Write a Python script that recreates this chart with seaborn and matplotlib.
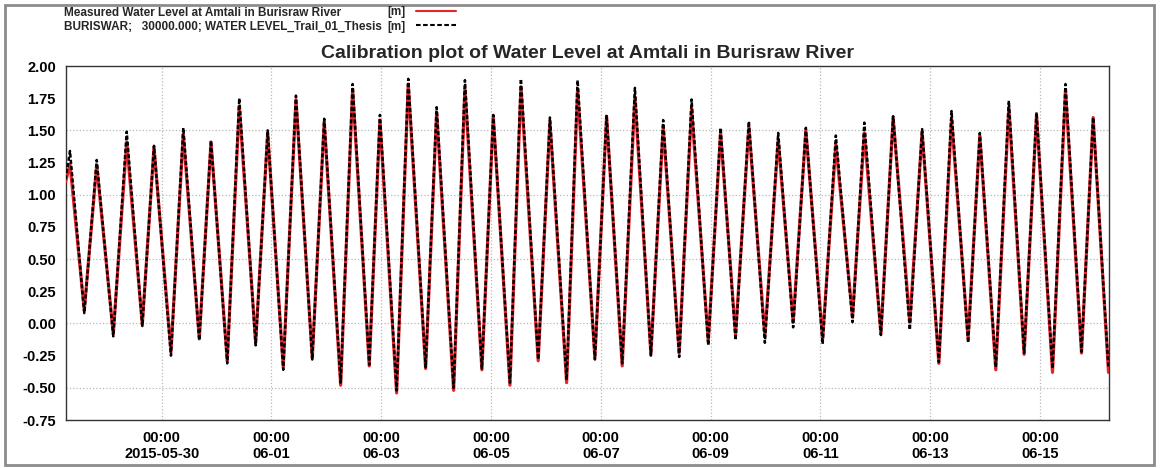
import numpy as np
import pandas as pd
import matplotlib
matplotlib.use("Agg")
import matplotlib.pyplot as plt
import matplotlib.dates as mdates
from matplotlib.ticker import MultipleLocator, FormatStrFormatter
from matplotlib.lines import Line2D
from matplotlib.patches import Rectangle
import seaborn as sns

# ---------------- data (successive high / low waters) -------------
times = [
    "2015-05-28 06:00", "2015-05-28 07:55", "2015-05-28 14:10", "2015-05-28 19:36",
    "2015-05-29 02:51", "2015-05-29 08:43", "2015-05-29 15:32", "2015-05-29 20:39",
    "2015-05-30 04:04", "2015-05-30 09:27", "2015-05-30 16:27", "2015-05-30 21:34",
    "2015-05-31 04:41", "2015-05-31 09:56", "2015-05-31 17:06", "2015-05-31 22:21",
    "2015-06-01 05:10", "2015-06-01 10:43", "2015-06-01 17:51", "2015-06-01 23:05",
    "2015-06-02 06:16", "2015-06-02 11:30", "2015-06-02 18:46", "2015-06-02 23:26",
    "2015-06-03 06:44", "2015-06-03 11:49", "2015-06-03 19:25", "2015-06-04 00:14",
    "2015-06-04 07:40", "2015-06-04 12:36", "2015-06-04 20:01", "2015-06-05 01:00",
    "2015-06-05 08:17", "2015-06-05 13:05", "2015-06-05 20:38", "2015-06-06 01:46",
    "2015-06-06 09:04", "2015-06-06 13:52", "2015-06-06 21:26", "2015-06-07 02:32",
    "2015-06-07 09:22", "2015-06-07 14:55", "2015-06-07 21:55", "2015-06-08 03:17",
    "2015-06-08 10:17", "2015-06-08 15:42", "2015-06-08 23:00", "2015-06-09 04:23",
    "2015-06-09 10:56", "2015-06-09 16:45", "2015-06-09 23:45", "2015-06-10 05:35",
    "2015-06-10 12:07", "2015-06-10 17:40", "2015-06-11 01:00", "2015-06-11 06:47",
    "2015-06-11 14:05", "2015-06-11 19:15", "2015-06-12 02:29", "2015-06-12 07:50",
    "2015-06-12 15:08", "2015-06-12 20:30", "2015-06-13 03:49", "2015-06-13 09:22",
    "2015-06-13 16:37", "2015-06-13 21:44", "2015-06-14 04:43", "2015-06-14 10:25",
    "2015-06-14 17:06", "2015-06-14 22:32", "2015-06-15 05:31", "2015-06-15 11:12",
    "2015-06-15 18:12", "2015-06-15 23:17", "2015-06-16 06:00",
]
measured = [
    1.10, 1.24, 0.10, 1.23, -0.08, 1.41, -0.01, 1.37,
    -0.22, 1.47, -0.12, 1.41, -0.29, 1.69, -0.15, 1.48,
    -0.34, 1.74, -0.27, 1.57, -0.48, 1.82, -0.33, 1.58,
    -0.54, 1.86, -0.35, 1.64, -0.52, 1.83, -0.36, 1.61,
    -0.48, 1.84, -0.29, 1.57, -0.46, 1.82, -0.27, 1.61,
    -0.33, 1.76, -0.24, 1.53, -0.23, 1.67, -0.14, 1.48,
    -0.09, 1.53, -0.10, 1.43, 0.01, 1.50, -0.12, 1.39,
    0.05, 1.48, -0.08, 1.60, 0.01, 1.49, -0.31, 1.59,
    -0.12, 1.46, -0.36, 1.68, -0.24, 1.62, -0.38, 1.81,
    -0.23, 1.60, -0.38,
]
simulated = [
    1.12, 1.34, 0.08, 1.27, -0.10, 1.49, -0.02, 1.38,
    -0.25, 1.52, -0.13, 1.42, -0.31, 1.75, -0.17, 1.50,
    -0.36, 1.77, -0.28, 1.59, -0.46, 1.86, -0.32, 1.62,
    -0.52, 1.90, -0.34, 1.68, -0.50, 1.89, -0.35, 1.62,
    -0.46, 1.90, -0.28, 1.60, -0.44, 1.89, -0.28, 1.62,
    -0.31, 1.83, -0.25, 1.58, -0.26, 1.74, -0.17, 1.52,
    -0.13, 1.57, -0.15, 1.48, -0.03, 1.52, -0.16, 1.46,
    0.01, 1.56, -0.09, 1.61, -0.05, 1.51, -0.30, 1.65,
    -0.15, 1.48, -0.34, 1.73, -0.23, 1.64, -0.35, 1.86,
    -0.22, 1.60, -0.35,
]
tick_dates = ["2015-05-30", "2015-06-01", "2015-06-03", "2015-06-05", "2015-06-07",
              "2015-06-09", "2015-06-11", "2015-06-13", "2015-06-15"]
tick_labels = ["00:00\n2015-05-30", "00:00\n06-01", "00:00\n06-03", "00:00\n06-05",
               "00:00\n06-07", "00:00\n06-09", "00:00\n06-11", "00:00\n06-13", "00:00\n06-15"]
y_ticks = [-0.75, -0.50, -0.25, 0.00, 0.25, 0.50, 0.75, 1.00, 1.25, 1.50, 1.75, 2.00]
grid_levels = [-0.5, 0.0, 0.5, 1.0, 1.5]
title = "Calibration plot of Water Level at Amtali in Burisraw River"
legend_names = ["Measured Water Level at Amtali in Burisraw River",
                "BURISWAR;   30000.000; WATER LEVEL_Trail_01_Thesis"]
legend_units = ["[m]", "[m]"]

# ---------------- style ----------------
sns.set_style("white")
plt.rcParams["font.family"] = ["Liberation Sans", "DejaVu Sans"]

RED = "#e3242b"
W, H = 1160, 468
fig = plt.figure(figsize=(W / 100, H / 100), dpi=100)
ax = fig.add_axes([65.6 / W, 1 - 420 / H, (1108.5 - 65.6) / W, (420 - 66) / H])

df = pd.DataFrame({"time": pd.to_datetime(times), "Measured": measured, "Simulated": simulated})
sns.lineplot(data=df, x="time", y="Measured", ax=ax, color=RED, lw=2.3, zorder=3,
             solid_joinstyle="round", solid_capstyle="round")
sns.lineplot(data=df, x="time", y="Simulated", ax=ax, color="black", lw=1.8, zorder=4)
sim_line = ax.lines[-1]
sim_line.set_linestyle((0, (1.6, 0.9)))
sim_line.set_dash_joinstyle("round")

ax.set_xlim(pd.Timestamp("2015-05-28 06:00"), pd.Timestamp("2015-06-16 06:00"))
ax.set_ylim(-0.75, 2.0)
ax.set_xlabel("")
ax.set_ylabel("")

ax.set_xticks(pd.to_datetime(tick_dates))
ax.set_xticklabels(tick_labels)
ax.xaxis.set_minor_locator(mdates.HourLocator(byhour=range(0, 24, 4)))
ax.set_yticks(y_ticks)
ax.yaxis.set_major_formatter(FormatStrFormatter("%.2f"))
ax.yaxis.set_minor_locator(MultipleLocator(0.05))

ax.tick_params(axis="both", which="major", direction="out", length=5, width=0.8,
               labelsize=10.5, colors="#222222", pad=2)
ax.tick_params(axis="both", which="minor", direction="out", length=2.5, width=0.7, colors="#222222")
ax.tick_params(axis="x", which="major", pad=3)
for lbl in ax.get_xticklabels() + ax.get_yticklabels():
    lbl.set_fontweight("bold")
    lbl.set_color("black")

ax.xaxis.grid(True, which="major", color="#b8b8b8", ls=":", lw=0.9)
for g in grid_levels:
    ax.axhline(g, color="#b8b8b8", ls=":", lw=0.9, zorder=1)

for s in ax.spines.values():
    s.set_visible(True)
    s.set_color("#333333")
    s.set_linewidth(1.0)

ax.set_title(title, fontsize=14, fontweight="bold", pad=6)

# legend (description text, then units and line samples)
fig.text(64 / W, 1 - 12.5 / H, legend_names[0], fontsize=8.5, fontweight="bold", va="center")
fig.text(64 / W, 1 - 27 / H, legend_names[1], fontsize=8.5, fontweight="bold", va="center")
handles = [Line2D([], [], color=RED, lw=1.5),
           Line2D([], [], color="black", lw=1.5, ls=(0, (2.2, 1.2)))]
fig.legend(handles=handles, labels=legend_units, loc="upper left",
           bbox_to_anchor=(387 / W, 1 - 6 / H), bbox_transform=fig.transFigure,
           markerfirst=False, frameon=False, prop=dict(weight="bold", size=8.5),
           handlelength=3.4, handletextpad=0.9, labelspacing=0.22,
           borderpad=0, borderaxespad=0)

# outer frame of the figure
fig.patches.append(Rectangle((5 / W, 3 / H), (1154 - 5) / W, (463 - 3) / H,
                             transform=fig.transFigure, fill=False,
                             ec="#8c8c8c", lw=2.0))

fig.savefig("out.png", dpi=100)
